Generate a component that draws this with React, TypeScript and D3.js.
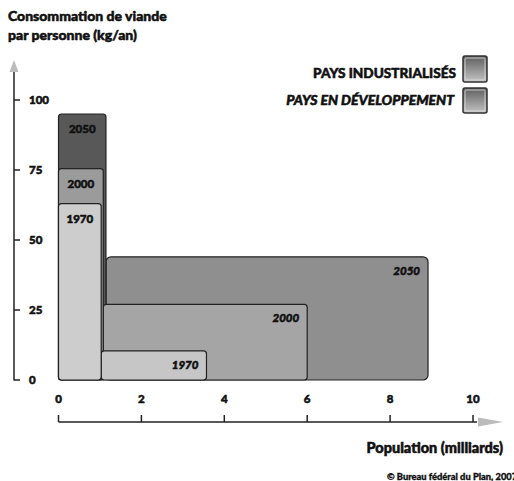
import React from "react";
import * as d3 from "d3";

const years = ["1970", "2000", "2050"];
const indPop = [1.03, 1.08, 1.145];
const indMeat = [63, 75.5, 95];
const devPop = [2.54, 4.92, 7.77];
const devMeat = [10.4, 27, 44];
const xTicks = [0, 2, 4, 6, 8, 10];
const yTicks = [0, 25, 50, 75, 100];

const indColors: Record<string, string> = { "1970": "#cdcdcd", "2000": "#9b9b9b", "2050": "#585858" };
const devColors: Record<string, string> = { "1970": "#c6c6c6", "2000": "#a5a5a5", "2050": "#8f8f8f" };

const FONT = "Lato, 'DejaVu Sans', sans-serif";
const heavy = { fontWeight: 900, fill: "#111", stroke: "#111", strokeWidth: 0.55 } as const;

export default function App() {
  const W = 514, H = 481;
  const x = d3.scaleLinear().domain([0, 10]).range([58.5, 473]);
  const y = d3.scaleLinear().domain([0, 100]).range([380, 100]);

  const order = [2, 1, 0];

  return (
    <svg width={W} height={H} style={{ position: "absolute", left: 0, top: 0, background: "#fff" }} fontFamily={FONT}>
      <defs>
        <linearGradient id="lg" x1="0" y1="0" x2="0" y2="1">
          <stop offset="0" stopColor="#5e5e5e" />
          <stop offset="1" stopColor="#c4c4c4" />
        </linearGradient>
      </defs>
      <text x={8} y={21} fontSize={14} {...heavy}>Consommation de viande</text>
      <text x={8} y={40} fontSize={14} {...heavy}>par personne (kg/an)</text>

      <text x={456} y={78} fontSize={13.6} textAnchor="end" {...heavy}>PAYS INDUSTRIALISÉS</text>
      <rect x={463} y={56} width={24} height={26} fill="url(#lg)" stroke="#333" strokeWidth={1.5} rx={2} />
      <rect x={465} y={58} width={20} height={22} fill="none" stroke="#ddd" strokeWidth={0.8} rx={1} />
      <text x={454} y={105} fontSize={14} fontStyle="italic" textAnchor="end" {...heavy}>PAYS EN DÉVELOPPEMENT</text>
      <rect x={463} y={88} width={24} height={25} fill="url(#lg)" stroke="#333" strokeWidth={1.5} rx={2} />
      <rect x={465} y={90} width={20} height={21} fill="none" stroke="#ddd" strokeWidth={0.8} rx={1} />

      <path d="M14,60 L18.5,72 L9.5,72 Z" fill="#bbb" />
      <line x1={14} y1={72} x2={14} y2={380.5} stroke="#222" strokeWidth={1.5} />
      {yTicks.map((t) => (
        <g key={t}>
          <line x1={14} x2={20} y1={y(t)} y2={y(t)} stroke="#222" strokeWidth={1.5} />
          <text x={29} y={y(t)} dy="0.35em" fontSize={11.5} {...heavy}>{t}</text>
        </g>
      ))}

      {order.map((i) => {
        const yr = years[i];
        const rx = yr === "2050" ? 5 : 3;
        return (
          <g key={yr}>
            <rect x={x(indPop[i])} y={y(devMeat[i])} width={x(indPop[i] + devPop[i]) - x(indPop[i])} height={y(0) - y(devMeat[i])}
              fill={devColors[yr]} stroke="#222" strokeWidth={1.2} rx={rx} />
            <rect x={x(0)} y={y(indMeat[i])} width={x(indPop[i]) - x(0)} height={y(0) - y(indMeat[i])}
              fill={indColors[yr]} stroke="#222" strokeWidth={1.2} rx={3} />
          </g>
        );
      })}
      {order.map((i) => {
        const yr = years[i];
        return (
          <g key={"l" + yr}>
            <text x={(x(0) + x(indPop[i])) / 2} y={y(indMeat[i]) + 19} textAnchor="middle" fontSize={11.5} {...heavy}>{yr}</text>
            <text x={x(indPop[i] + devPop[i]) - 8} y={y(devMeat[i]) + 18} textAnchor="end" fontSize={11.5} fontStyle="italic" {...heavy}>{yr}</text>
          </g>
        );
      })}

      <line x1={x(0)} x2={477} y1={422} y2={422} stroke="#222" strokeWidth={1.5} />
      <path d="M503,422 L478,417.5 L478,426.5 Z" fill="#bbb" />
      {xTicks.map((t) => (
        <g key={t}>
          <line x1={x(t)} x2={x(t)} y1={415} y2={422} stroke="#222" strokeWidth={1.5} />
          <text x={x(t)} y={399} dy="0.35em" textAnchor="middle" fontSize={11.5} {...heavy}>{t}</text>
        </g>
      ))}
      <text x={503} y={453} textAnchor="end" fontSize={14.5} {...heavy}>Population (milliards)</text>
      <text x={387} y={480} fontSize={9.3} {...heavy} strokeWidth={0.35}>© Bureau fédéral du Plan, 2007</text>
    </svg>
  );
}
